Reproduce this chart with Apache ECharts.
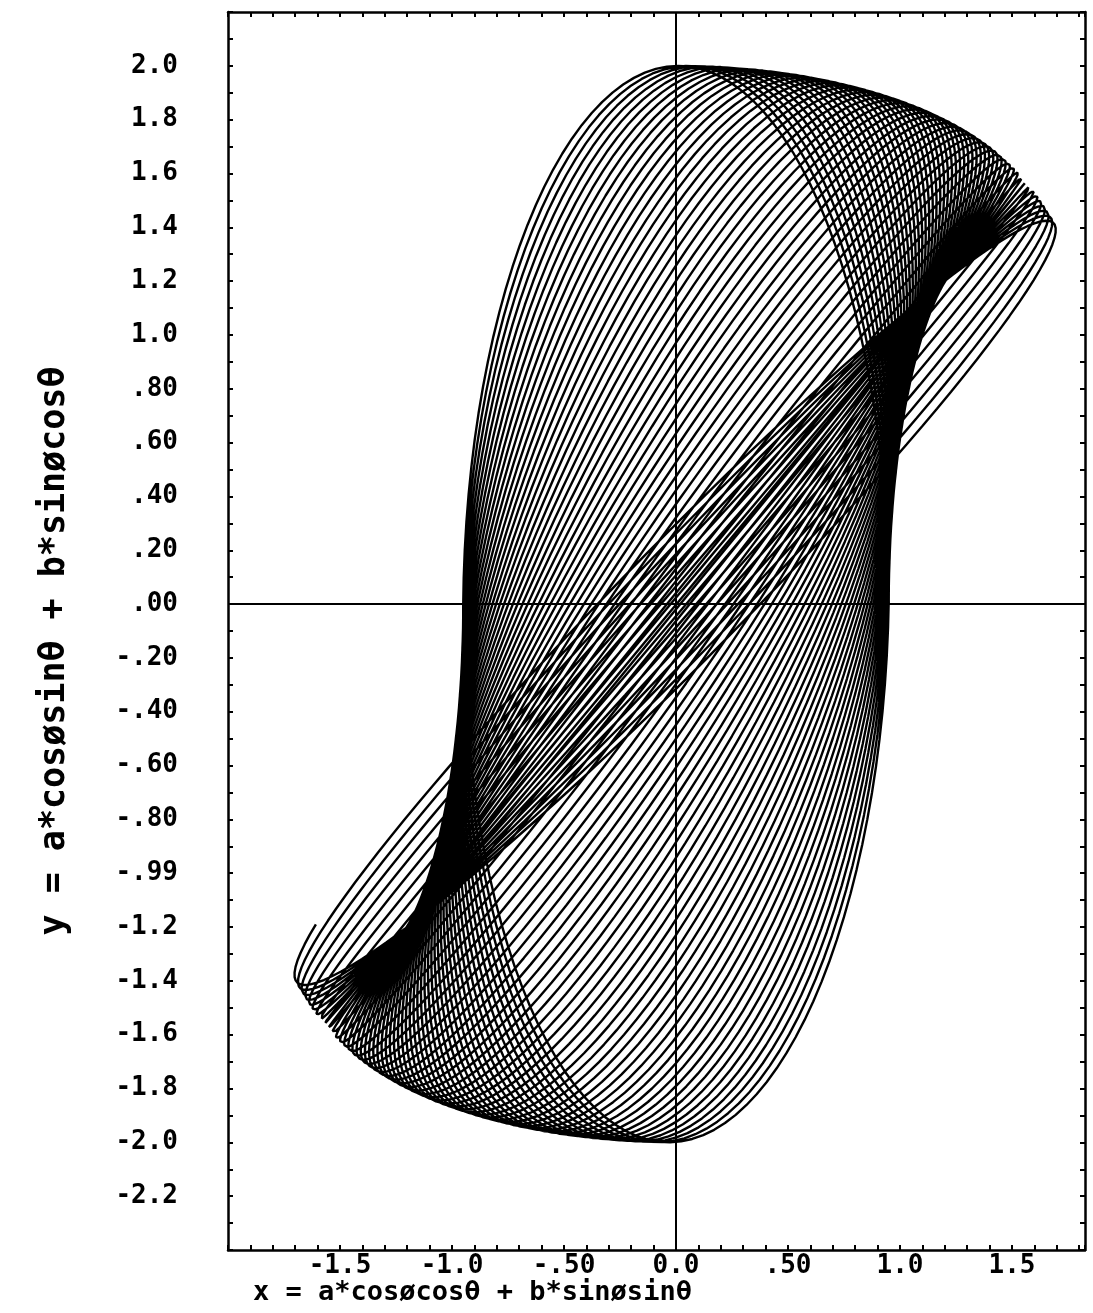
<!DOCTYPE html>
<html>
<head>
<meta charset="utf-8">
<script src="https://cdn.jsdelivr.net/npm/echarts@6/dist/echarts.min.js"></script>
<style>
html,body{margin:0;padding:0;background:#fff;}
#chart{width:1093px;height:1313px;}
</style>
</head>
<body>
<div id="chart"></div>
<script>
// ---- values read / ----
const xTickValues = [-1.5, -1.0, -0.5, 0.0, 0.5, 1.0, 1.5];
const xTickLabels = ['-1.5', '-1.0', '-.50', '0.0', '.50', '1.0', '1.5'];
const yTickValues = [2.0, 1.8, 1.6, 1.4, 1.2, 1.0, 0.8, 0.6, 0.4, 0.2, 0.0, -0.2, -0.4, -0.6, -0.8, -1.0, -1.2, -1.4, -1.6, -1.8, -2.0, -2.2];
const yTickLabels = ['2.0', '1.8', '1.6', '1.4', '1.2', '1.0', '.80', '.60', '.40', '.20', '.00', '-.20', '-.40', '-.60', '-.80', '-.99', '-1.2', '-1.4', '-1.6', '-1.8', '-2.0', '-2.2'];
const xRange = [-2.0, 1.826];
const yRange = [-2.4, 2.2];
// parameters of the plotted curve (equations printed on the axis titles)
const coefA = [0.95];          // a
const coefB = [2.0];           // b
const thetaRangeDeg = [0, 53.5];
const phiTurns = [52];
const phiEndDeg = [272];
const phiStepDeg = [3];

const xTitle = 'x = a*cosøcosθ + b*sinøsinθ';
const yTitle = 'y = a*cosøsinθ + b*sinøcosθ';

// ---- build the curve from the chart's own equations ----
const curve = [];
(function () {
  const a = coefA[0], b = coefB[0];
  const total = phiTurns[0] * 360 + phiEndDeg[0];
  for (let p = 0; p <= total; p += phiStepDeg[0]) {
    const th = (thetaRangeDeg[0] + (thetaRangeDeg[1] - thetaRangeDeg[0]) * p / total) * Math.PI / 180;
    const ph = p * Math.PI / 180;
    curve.push([
      a * Math.cos(ph) * Math.cos(th) + b * Math.sin(ph) * Math.sin(th),
      a * Math.cos(ph) * Math.sin(th) + b * Math.sin(ph) * Math.cos(th)
    ]);
  }
})();

function pick(values, labels, v) {
  for (let i = 0; i < values.length; i++) {
    if (Math.abs(values[i] - v) < 1e-6) return labels[i];
  }
  return '';
}

const FONT = 'DejaVu Sans Mono';
const labelStyle = { fontFamily: FONT, fontSize: 26, fontWeight: 'bold', color: '#000' };
const lineStyle = { color: '#000', width: 2.5 };
const tickStyle = { show: true, inside: true, length: 5, lineStyle: { color: '#000', width: 2 } };

const chart = echarts.init(document.getElementById('chart'), null, { renderer: 'canvas' });
chart.setOption({
  animation: false,
  backgroundColor: '#fff',
  grid: { left: 228, right: 8, top: 12, bottom: 63, containLabel: false },
  title: [{
    text: xTitle, left: 248, top: 1274,
    textStyle: { fontFamily: FONT, fontSize: 27, fontWeight: 'bold', color: '#000' }
  }],
  xAxis: [{
    type: 'value', min: xRange[0], max: xRange[1], interval: 0.1, position: 'bottom',
    axisLine: { show: true, onZero: false, lineStyle: lineStyle },
    axisTick: tickStyle, splitLine: { show: false },
    axisLabel: Object.assign({ margin: 3, formatter: v => pick(xTickValues, xTickLabels, v) }, labelStyle)
  }, {
    type: 'value', min: xRange[0], max: xRange[1], interval: 0.1, position: 'top',
    axisLine: { show: true, onZero: false, lineStyle: lineStyle },
    axisTick: tickStyle, splitLine: { show: false }, axisLabel: { show: false }
  }],
  yAxis: [{
    type: 'value', min: yRange[0], max: yRange[1], interval: 0.1, position: 'left',
    axisLine: { show: true, onZero: false, lineStyle: lineStyle },
    axisTick: tickStyle, splitLine: { show: false },
    axisLabel: Object.assign({ margin: 50, formatter: v => pick(yTickValues, yTickLabels, v) }, labelStyle),
    name: yTitle, nameLocation: 'middle', nameRotate: 90, nameGap: 156,
    nameTextStyle: { fontFamily: FONT, fontSize: 35, fontWeight: 'bold', color: '#000', padding: [0, 40, 0, 0] }
  }, {
    type: 'value', min: yRange[0], max: yRange[1], interval: 0.1, position: 'right',
    axisLine: { show: true, onZero: false, lineStyle: lineStyle },
    axisTick: tickStyle, splitLine: { show: false }, axisLabel: { show: false }
  }],
  series: [{
    type: 'line',
    data: curve,
    xAxisIndex: 0, yAxisIndex: 0,
    showSymbol: false, symbol: 'none', smooth: false,
    lineStyle: { color: '#000', width: 2.4 },
    silent: true, clip: true,
    markLine: {
      silent: true, symbol: ['none', 'none'], animation: false,
      label: { show: false },
      lineStyle: { color: '#000', width: 2, type: 'solid' },
      data: [{ xAxis: 0 }, { yAxis: 0 }]
    }
  }]
});
</script>
</body>
</html>
